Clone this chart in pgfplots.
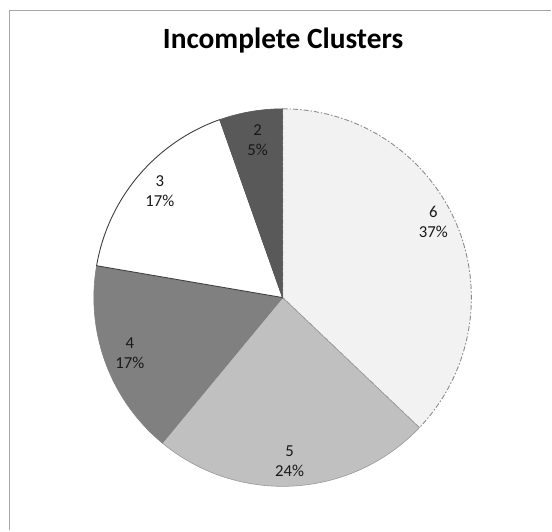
\documentclass[border=0pt]{standalone}
\usepackage{pgfplots}
\usepackage{pgfplotstable}
\pgfplotsset{compat=1.18}
\usepackage{fontspec}
\setmainfont{Carlito}
\definecolor{c6}{HTML}{F2F2F2}
\definecolor{c5}{HTML}{C0C0C0}
\definecolor{c4}{HTML}{808080}
\definecolor{c3}{HTML}{FFFFFF}
\definecolor{c2}{HTML}{595959}
\definecolor{frame}{HTML}{A6A6A6}
\tikzset{
  s6/.style={fill=c6, draw=gray!90, line width=0.9bp, dash pattern=on 5bp off 2bp on 1.5bp off 2bp},
  s5/.style={fill=c5, draw=gray!80, line width=0.6bp},
  s4/.style={fill=c4, draw=c4, line width=0.6bp},
  s3/.style={fill=c3, draw=black!75, line width=0.9bp},
  s2/.style={fill=c2, draw=c2, line width=0.6bp},
  plab/.style={align=center, font=\fontsize{16.8}{20}\selectfont, text=black!90, inner sep=0pt},
}
% label, shown percentage, share, slice style, label centre (pixels from top-left)
\pgfplotstableread{
label pct share sty lx ly
6 37 37.1 s6 434 222
5 24 23.9 s5 290 462
4 17 16.7 s4 130 354
3 17 16.9 s3 160 191
2 5 5.4 s2 258 140
}\piedata
\begin{document}
\begin{tikzpicture}
\begin{axis}[x=1bp, y=1bp, xmin=0, xmax=552, ymin=0, ymax=531,
  hide axis, scale only axis, clip=false]
\path (axis cs:0,0) rectangle (axis cs:552,531);
\draw[frame, line width=1.5bp] (axis cs:9.5,0) -- (axis cs:9.5,520.5) -- (axis cs:552,520.5);
\def\startangle{90}
\pgfplotsforeachungrouped \i in {0,...,4}{%
  \pgfplotstablegetelem{\i}{pct}\of\piedata \let\pct\pgfplotsretval
  \pgfplotstablegetelem{\i}{share}\of\piedata \let\share\pgfplotsretval
  \pgfplotstablegetelem{\i}{label}\of\piedata \let\lab\pgfplotsretval
  \pgfplotstablegetelem{\i}{sty}\of\piedata \let\sty\pgfplotsretval
  \pgfplotstablegetelem{\i}{lx}\of\piedata \let\lx\pgfplotsretval
  \pgfplotstablegetelem{\i}{ly}\of\piedata \let\ly\pgfplotsretval
  \pgfmathsetmacro\endangle{\startangle-3.6*\share}%
  \pgfmathsetmacro\lyy{531-\ly}%
  \edef\temp{\noexpand\filldraw[\sty] (axis cs:283,233) -- ++(\startangle:189bp)
     arc[start angle=\startangle, end angle=\endangle, radius=189bp] -- cycle;
     \noexpand\node[plab] at (axis cs:\lx,\lyy) {\lab\noexpand\\\pct\noexpand\%};}%
  \temp
  \let\startangle\endangle
}
\node[anchor=base, font=\fontsize{29.5}{34}\selectfont\bfseries, inner sep=0pt] at (axis cs:283.5,482) {Incomplete Clusters};
\end{axis}
\end{tikzpicture}
\end{document}
